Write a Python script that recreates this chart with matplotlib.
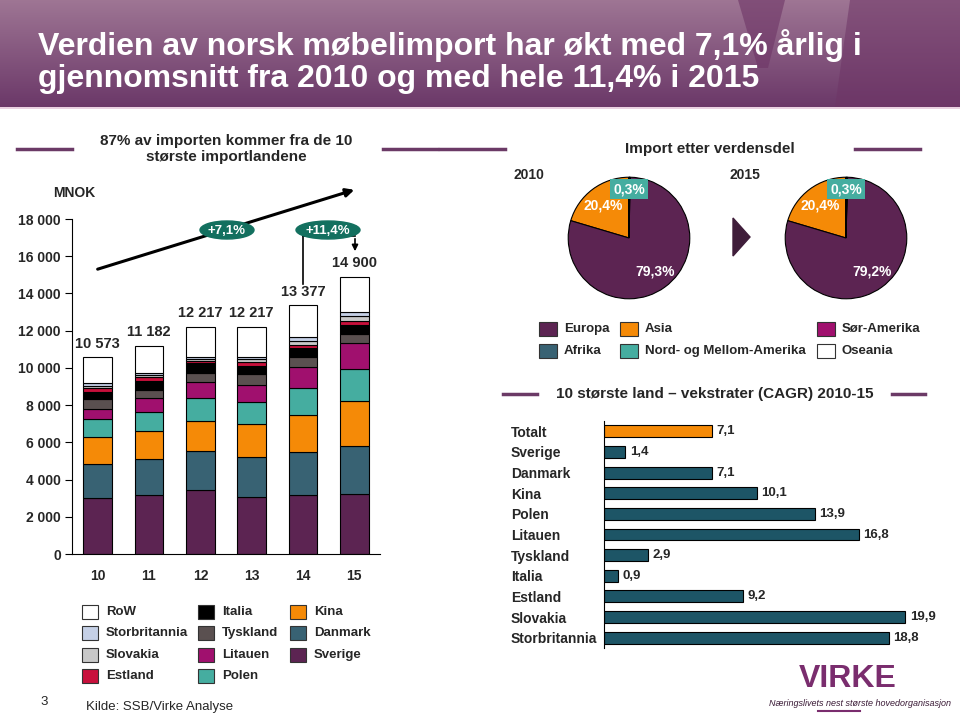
import numpy as np
import matplotlib.pyplot as plt
from matplotlib.patches import Rectangle, Ellipse, Polygon

plt.rcParams['font.family'] = ['Liberation Sans', 'DejaVu Sans']

W, H = 960, 717

# ---- data: stacked import by country (MNOK) ----
years = ['10', '11', '12', '13', '14', '15']
totals = [10573, 11182, 12217, 12217, 13377, 14900]
sverige = [3000, 3150, 3440, 3040, 3150, 3220]
danmark = [1830, 1950, 2080, 2150, 2310, 2560]
kina = [1480, 1520, 1640, 1780, 1990, 2420]
polen = [920, 990, 1200, 1210, 1480, 1720]
litauen = [570, 790, 860, 910, 1130, 1400]
tyskland = [510, 430, 520, 590, 500, 500]
italia = [400, 450, 500, 420, 490, 480]
estland = [220, 250, 120, 230, 170, 230]
slovakia = [120, 90, 120, 140, 220, 250]
storbritannia = [120, 90, 120, 130, 200, 230]

# ---- data: pies ----
regions = ['Asia', 'Europa', 'Afrika', 'Nord- og Mellom-Amerika', 'Sør-Amerika', 'Oseania']
share_2010 = [20.4, 79.3, 0.1, 0.1, 0.05, 0.05]
share_2015 = [20.4, 79.2, 0.1, 0.2, 0.05, 0.05]

# ---- data: CAGR ----
cagr_land = ['Totalt', 'Sverige', 'Danmark', 'Kina', 'Polen', 'Litauen',
             'Tyskland', 'Italia', 'Estland', 'Slovakia', 'Storbritannia']
cagr = [7.1, 1.4, 7.1, 10.1, 13.9, 16.8, 2.9, 0.9, 9.2, 19.9, 18.8]

c_purple = '#5c2452'
c_danmark = '#386273'
c_orange = '#f58a07'
c_polen = '#45ada0'
c_magenta = '#a0106e'
c_tysk = '#5a5050'
c_estland = '#c8103c'
c_slovakia = '#c8c8c8'
c_uk = '#c5d0e6'
txt = '#262626'
line_purple = '#6b3a66'


def px_axes(fig, x, y, w, h):
    return fig.add_axes([x / W, 1 - (y + h) / H, w / W, h / H])


fig = plt.figure(figsize=(9.6, 7.17), dpi=100)
page = fig.add_axes([0, 0, 1, 1])
page.set_xlim(0, W)
page.set_ylim(H, 0)
page.axis('off')

# header band
grad = np.linspace(0, 1, 100).reshape(-1, 1)
top = np.array([0.62, 0.46, 0.58])
bot = np.array([0.42, 0.22, 0.41])
img = top + (bot - top) * grad[:, :, None]
page.imshow(img, extent=[0, W, 107, 0], aspect='auto', zorder=0)
page.add_patch(Polygon([[850, 0], [960, 0], [960, 107], [835, 107]],
                       closed=True, color='#6e3566', alpha=0.55, lw=0, zorder=1))
page.add_patch(Polygon([[738, 0], [785, 0], [768, 68], [758, 68]],
                       closed=True, color='#6e3566', alpha=0.6, lw=0, zorder=1))
page.plot([0, W], [108, 108], color='#e6c8dc', lw=1.2, zorder=1)
page.text(38, 46, 'Verdien av norsk møbelimport har økt med 7,1% årlig i',
          color='white', fontsize=23, fontweight='bold', va='center', zorder=2)
page.text(38, 79, 'gjennomsnitt fra 2010 og med hele 11,4% i 2015',
          color='white', fontsize=23, fontweight='bold', va='center', zorder=2)

# left header
page.text(226, 149, '87% av importen kommer fra de 10\nstørste importlandene',
          ha='center', va='center', fontsize=11, fontweight='bold', color=txt, linespacing=1.1)
page.plot([17, 72], [149, 149], color=line_purple, lw=2.5)
page.plot([383, 437], [149, 149], color=line_purple, lw=2.5)
page.text(53, 193, 'MNOK', fontsize=10, fontweight='bold', color=txt, va='center')

# ---- stacked bar chart ----
ax = px_axes(fig, 72, 219, 308, 335)
x = np.arange(len(years))
rows = [sverige, danmark, kina, polen, litauen, tyskland, italia, estland, slovakia, storbritannia]
rest = [t - sum(r[i] for r in rows) for i, t in enumerate(totals)]
series = rows + [rest]
cols = [c_purple, c_danmark, c_orange, c_polen, c_magenta, c_tysk, 'black',
        c_estland, c_slovakia, c_uk, 'white']
bottom = np.zeros(len(years))
for vals, c in zip(series, cols):
    ax.bar(x, vals, bottom=bottom, width=0.56, color=c, edgecolor='black', lw=0.8)
    bottom += np.array(vals)
for xi, t in zip(x, totals):
    ax.text(xi, t + 350, f'{t:,}'.replace(',', ' '), ha='center', va='bottom',
            fontsize=10.5, fontweight='bold', color=txt)
ax.set_xlim(-0.5, 5.5)
ax.set_ylim(0, 18000)
ax.set_yticks(np.arange(0, 18001, 2000))
ax.set_yticklabels([f'{v:,}'.replace(',', ' ') for v in range(0, 18001, 2000)])
ax.set_xticks(x)
ax.set_xticklabels(years)
ax.tick_params(axis='x', length=0, pad=11)
ax.tick_params(axis='y', length=5, direction='out', pad=3)
for lab in ax.get_xticklabels() + ax.get_yticklabels():
    lab.set_fontweight('bold')
    lab.set_fontsize(10)
    lab.set_color(txt)
ax.spines['top'].set_visible(False)
ax.spines['right'].set_visible(False)
ax.patch.set_alpha(0)

# legend left
leg_items = [('RoW', 'white'), ('Storbritannia', c_uk), ('Slovakia', c_slovakia), ('Estland', c_estland),
             ('Italia', 'black'), ('Tyskland', c_tysk), ('Litauen', c_magenta), ('Polen', c_polen),
             ('Kina', c_orange), ('Danmark', c_danmark), ('Sverige', c_purple)]
col_x = [82, 198, 290]
row_y = [612, 633, 655, 676]
for i, (name, c) in enumerate(leg_items):
    col, row = (0, i) if i < 4 else ((1, i - 4) if i < 8 else (2, i - 8))
    bx, by = col_x[col], row_y[row]
    page.add_patch(Rectangle((bx, by - 7), 16, 14, facecolor=c, edgecolor='#333333', lw=0.8))
    page.text(bx + 24, by, name, va='center', fontsize=9.5, fontweight='bold', color=txt)
page.text(86, 707, 'Kilde: SSB/Virke Analyse', va='center', fontsize=9.5, color=txt)
page.text(40, 702, '3', va='center', fontsize=9.5, color=txt)

# ---- pies ----
page.text(710, 149, 'Import etter verdensdel', ha='center', va='center', fontsize=11,
          fontweight='bold', color=txt)
page.plot([440, 505], [149, 149], color=line_purple, lw=2.5)
page.plot([855, 920], [149, 149], color=line_purple, lw=2.5)
pie_cols = [c_orange, c_purple, c_danmark, c_polen, c_magenta, 'white']
pie_specs = [(629, '2010', share_2010, '79,3%'), (846, '2015', share_2015, '79,2%')]
for cx, yr, shares, eu in pie_specs:
    pa = px_axes(fig, cx - 62, 238 - 62, 124, 124)
    pa.pie(shares, colors=pie_cols, startangle=90, counterclock=True,
           wedgeprops=dict(edgecolor='black', lw=0.8))
    pa.set_xlim(-1.02, 1.02)
    pa.set_ylim(-1.02, 1.02)
    pa.axis('off')
    page.text(cx - 116, 175, yr, ha='left', va='center', fontsize=10, fontweight='bold', color=txt)
page.add_patch(Polygon([[733, 218], [750, 237], [733, 256]], closed=True, color='#3f1d3a'))

# pie legend
pleg = [('Europa', c_purple, 539, 329), ('Afrika', c_danmark, 539, 351),
        ('Asia', c_orange, 620, 329), ('Nord- og Mellom-Amerika', c_polen, 620, 351),
        ('Sør-Amerika', c_magenta, 817, 329), ('Oseania', 'white', 817, 351)]
for name, c, bx, by in pleg:
    page.add_patch(Rectangle((bx, by - 7), 18, 14, facecolor=c, edgecolor='#333333', lw=0.8))
    page.text(bx + 25, by, name, va='center', fontsize=9.5, fontweight='bold', color=txt)

# ---- CAGR bars ----
page.text(715, 394, '10 største land – vekstrater (CAGR) 2010-15', ha='center', va='center',
          fontsize=11, fontweight='bold', color=txt)
page.plot([503, 537], [394, 394], color=line_purple, lw=2.5)
page.plot([892, 925], [394, 394], color=line_purple, lw=2.5)
bx_ax = px_axes(fig, 604, 421, 340, 227)
yy = np.arange(len(cagr_land))
bcols = [c_orange] + ['#1d5566'] * (len(cagr_land) - 1)
bx_ax.barh(yy, cagr, height=0.58, color=bcols, edgecolor='black', lw=0.8)
for yi, v in zip(yy, cagr):
    bx_ax.text(v + 0.3, yi, f'{v:.1f}'.replace('.', ','), va='center', ha='left',
               fontsize=9.5, fontweight='bold', color=txt)
bx_ax.set_ylim(len(cagr_land) - 0.5, -0.5)
bx_ax.set_xlim(0, 340 / 15.15)
bx_ax.set_yticks(yy)
bx_ax.set_yticklabels(cagr_land)
bx_ax.tick_params(axis='y', length=0, pad=0)
for lab in bx_ax.get_yticklabels():
    lab.set_horizontalalignment('left')
    lab.set_fontweight('bold')
    lab.set_fontsize(10)
    lab.set_color(txt)
    lab.set_x(-93 / 340)
bx_ax.set_xticks([])
for s in ['top', 'right', 'bottom']:
    bx_ax.spines[s].set_visible(False)
bx_ax.patch.set_alpha(0)

# overlay for marks that sit on top of the chart axes
over = fig.add_axes([0, 0, 1, 1])
over.set_xlim(0, W)
over.set_ylim(H, 0)
over.axis('off')

# growth arrows
over.annotate('', xy=(357, 189), xytext=(95, 270),
              arrowprops=dict(arrowstyle='-|>', color='black', lw=2.2, mutation_scale=12))
over.plot([303, 303], [236, 284], color='black', lw=1.2)
over.plot([303, 355], [236, 236], color='black', lw=1.2)
over.annotate('', xy=(355, 254), xytext=(355, 236),
              arrowprops=dict(arrowstyle='-|>', color='black', lw=1.2, mutation_scale=9))
over.add_patch(Ellipse((227, 230), 54, 18, color='#13705f', zorder=5))
over.text(227, 230.5, '+7,1%', color='white', fontsize=9.5, fontweight='bold',
          ha='center', va='center', zorder=6)
over.add_patch(Ellipse((328, 230), 64, 18, color='#13705f', zorder=5))
over.text(328, 230.5, '+11,4%', color='white', fontsize=9.5, fontweight='bold',
          ha='center', va='center', zorder=6)

# pie labels
for cx, yr, shares, eu in pie_specs:
    over.text(cx, 189, '0,3%', ha='center', va='center', fontsize=10, fontweight='bold', color='white',
              bbox=dict(boxstyle='square,pad=0.2', fc=c_polen, ec='none'), zorder=6)
    over.text(cx - 26, 206, '20,4%', ha='center', va='center', fontsize=10, fontweight='bold',
              color='white', zorder=6)
    over.text(cx + 26, 271, eu, ha='center', va='center', fontsize=10, fontweight='bold',
              color='white', zorder=6)

# Virke logo
over.text(848, 679, 'VIRKE', ha='center', va='center', fontsize=23, fontweight='bold', color='#7a2d6e')
over.text(860, 703, 'Næringslivets nest største hovedorganisasjon', ha='center', va='center',
          fontsize=6.5, style='italic', color='#3a1a36')
over.plot([818, 860], [711, 711], color='#7a2d6e', lw=1.5)

fig.savefig('out.png', dpi=100)
